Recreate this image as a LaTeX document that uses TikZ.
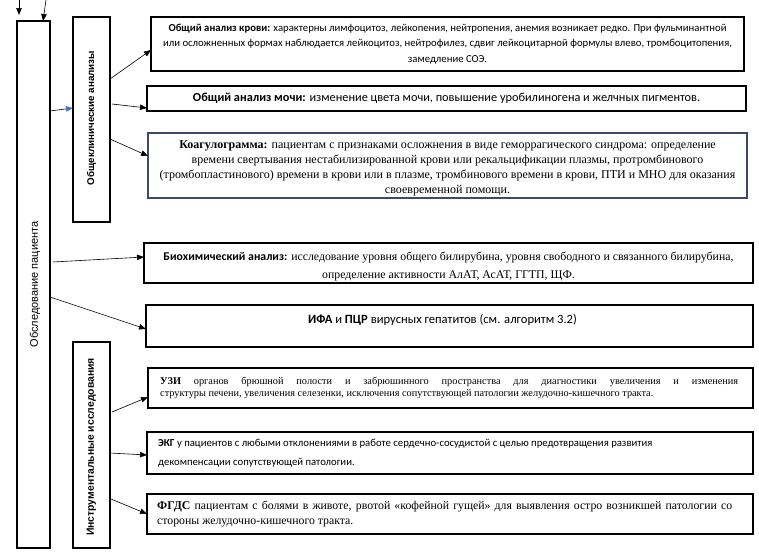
\documentclass[tikz,border=0pt]{standalone}
\usepackage{fontspec}
\setmainfont{Liberation Serif}
\newfontfamily\calf{Carlito}
\newfontfamily\arf{Liberation Sans}
\usetikzlibrary{arrows.meta,calc}
\definecolor{coagblue}{HTML}{3B4A6B}
\definecolor{tipblue}{HTML}{4472C4}
\tikzset{
  boxst/.style={draw=black, line width=1.1pt, inner sep=0pt, outer sep=0pt, anchor=north west},
  txt/.style={inner sep=0pt, align=center},
  arr/.style={line width=0.6pt, -{Triangle[length=7pt,width=5.5pt]}},
}
\begin{document}
\begin{tikzpicture}[x=1pt,y=-1pt]
\useasboundingbox (0,0) rectangle (759,554);
% left column boxes
\node[boxst, minimum width=33pt, minimum height=527pt] (main) at (17,21) {};
\node[txt, rotate=90, font=\arf\fontsize{11}{12}\selectfont] (maint) at ([xshift=1.5pt]main.center) {Обследование пациента};
\node[boxst, minimum width=37pt, minimum height=205pt] (ok) at (73,17) {};
\node[txt, rotate=90, font=\arf\bfseries\fontsize{9.8}{11}\selectfont] (okt) at ([yshift=1.5pt]ok.center) {Общеклинические анализы};
\node[boxst, minimum width=37pt, minimum height=206pt] (ins) at (73,342) {};
\node[txt, rotate=90, font=\arf\bfseries\fontsize{10.4}{11}\selectfont] (inst) at ([yshift=-2pt]ins.center) {Инструментальные исследования};
% right boxes
\node[boxst, minimum width=593pt, minimum height=54pt] (b1) at (151,17) {};
\node[txt, font=\calf\fontsize{10.7}{15.5}\selectfont] at (b1.center) {\textbf{Общий анализ крови:} характерны лимфоцитоз, лейкопения, нейтропения, анемия возникает редко. При фульминантной\\ или осложненных формах наблюдается лейкоцитоз, нейтрофилез, сдвиг лейкоцитарной формулы влево, тромбоцитопения,\\ замедление СОЭ.};
\node[boxst, minimum width=599pt, minimum height=25pt] (b2) at (147,86) {};
\node[txt, font=\calf\fontsize{12.3}{13}\selectfont] at (b2.center) {\textbf{Общий анализ мочи:} изменение цвета мочи, повышение уробилиногена и желчных пигментов.};
\node[boxst, draw=coagblue, minimum width=599pt, minimum height=65pt] (b3) at (148,133) {};
\node[txt, font=\fontsize{12}{15}\selectfont] at ([yshift=-3pt]b3.center) {\textbf{Коагулограмма:} пациентам с признаками осложнения в виде геморрагического синдрома: определение\\ времени свертывания нестабилизированной крови или рекальцификации плазмы, протромбинового\\ (тромбопластинового) времени в крови или в плазме, тромбинового времени в крови, ПТИ и МНО для оказания\\ своевременной помощи.};
\node[boxst, minimum width=609pt, minimum height=40pt] (b4) at (144,243) {};
\node[txt, font=\fontsize{11.8}{18}\selectfont] at ([yshift=-4pt]b4.center) {{\calf\bfseries Биохимический анализ:} исследование уровня общего билирубина, уровня свободного и связанного билирубина,\\ определение активности АлАТ, АсАТ, ГГТП, ЩФ.};
\node[boxst, minimum width=607pt, minimum height=42pt] (b5) at (146,305) {};
\node[txt, anchor=north, font=\calf\fontsize{12.6}{13}\selectfont] at ([xshift=-7pt,yshift=-9pt]b5.north) {\textbf{ИФА} и \textbf{ПЦР} вирусных гепатитов (см. алгоритм 3.2)};
\node[boxst, minimum width=605pt, minimum height=40pt] (b6) at (148,368) {};
\node[txt, align=justify, text width=578pt, font=\fontsize{10.3}{12.5}\selectfont, anchor=west] at ([xshift=12pt]b6.west) {\textbf{УЗИ} органов брюшной полости и забрюшинного пространства для диагностики увеличения и изменения\linebreak структуры печени, увеличения селезенки, исключения сопутствующей патологии желудочно-кишечного тракта.};
\node[boxst, minimum width=606pt, minimum height=42pt] (b7) at (147,432) {};
\node[txt, align=left, font=\calf\fontsize{10.7}{19}\selectfont, anchor=west] at ([xshift=11pt]b7.west) {\textbf{ЭКГ} у пациентов с любыми отклонениями в работе сердечно-сосудистой с целью предотвращения развития\\ декомпенсации сопутствующей патологии.};
\node[boxst, minimum width=606pt, minimum height=40pt] (b8) at (147,494) {};
\node[txt, align=justify, text width=575pt, font=\fontsize{11.8}{15}\selectfont, anchor=west] at ([xshift=10pt]b8.west) {\textbf{ФГДС} пациентам с болями в животе, рвотой «кофейной гущей» для выявления остро возникшей патологии со\linebreak стороны желудочно-кишечного тракта.};
% top free arrows
\coordinate (t1) at (19,0);
\coordinate (t2) at (46,0);
\draw[arr] (t1) -- ([xshift=2pt,yshift=6pt]main.north west);
\draw[arr] (t2) -- ([xshift=26pt]main.north west);
% connectors
\draw[line width=0.6pt, -{Triangle[length=7pt,width=5.5pt,color=tipblue]}] ([yshift=-90pt]main.north east) -- ([yshift=-91pt]ok.north west);
\draw[arr] ([yshift=-62pt]ok.north east) -- ([yshift=-33pt]b1.north west);
\draw[arr] ([xshift=2pt,yshift=-87pt]ok.north east) -- ([yshift=-22pt]b2.north west);
\draw[arr] ([yshift=-122pt]ok.north east) -- ([yshift=-23pt]b3.north west);
\draw[arr] ([xshift=3pt,yshift=-241pt]main.north east) -- ([yshift=-14pt]b4.north west);
\draw[arr] ([yshift=-276pt]main.north east) -- ([yshift=-24pt]b5.north west);
\draw[arr] ([xshift=2pt,yshift=-70pt]ins.north east) -- ([yshift=-29pt]b6.north west);
\draw[arr] ([yshift=-111pt]ins.north east) -- ([yshift=-23pt]b7.north west);
\draw[arr] ([xshift=1pt,yshift=-157pt]ins.north east) -- ([yshift=-20pt]b8.north west);
\end{tikzpicture}
\end{document}
